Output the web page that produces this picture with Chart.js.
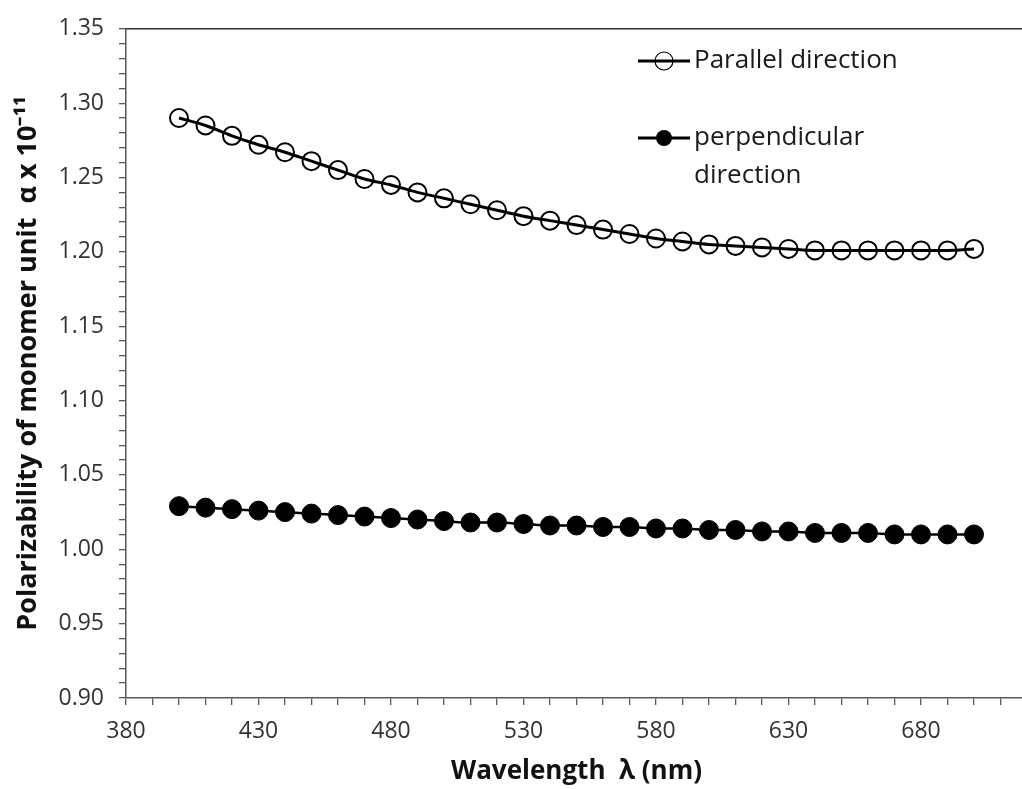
<!DOCTYPE html>
<html>
<head>
<meta charset="utf-8">
<script src="https://cdn.jsdelivr.net/npm/chart.js@4/dist/chart.umd.min.js"></script>
<style>
  html, body { margin: 0; padding: 0; background: #fff; overflow: hidden; }
  #wrap { width: 1022px; height: 789px; overflow: hidden; }
</style>
</head>
<body>
<div id="wrap"><canvas id="polChart" width="1040" height="789"></canvas></div>
<script>
// wavelength (nm)
const wavelengths = [400, 410, 420, 430, 440, 450, 460, 470, 480, 490, 500,
    510, 520, 530, 540, 550, 560, 570, 580, 590, 600,
    610, 620, 630, 640, 650, 660, 670, 680, 690, 700];

// polarizability alpha x 1e-11
const parallelValues = [1.290, 1.285, 1.278, 1.272, 1.267, 1.261, 1.255, 1.249, 1.245, 1.240, 1.236,
    1.232, 1.228, 1.224, 1.221, 1.218, 1.215, 1.212, 1.209, 1.207, 1.205,
    1.204, 1.203, 1.202, 1.201, 1.201, 1.201, 1.201, 1.201, 1.201, 1.202];
const perpendicularValues = [1.029, 1.028, 1.027, 1.026, 1.025, 1.024, 1.023, 1.022, 1.021, 1.020, 1.019,
    1.018, 1.018, 1.017, 1.016, 1.016, 1.015, 1.015, 1.014, 1.014, 1.013,
    1.013, 1.012, 1.012, 1.011, 1.011, 1.011, 1.010, 1.010, 1.010, 1.010];

const xMajorTicks = [380, 430, 480, 530, 580, 630, 680];
const yMajorTicks = [0.90, 0.95, 1.00, 1.05, 1.10, 1.15, 1.20, 1.25, 1.30, 1.35];

const seriesNames = ["Parallel direction", "perpendicular direction"];

const axisColor = "#595959";
const textFont = "'Open Sans', sans-serif";

function toPoints(values) {
    return wavelengths.map((w, i) => ({ x: w, y: values[i] }));
}

// box on top + legend drawn inside the plot
const framePlugin = {
    id: "frame",
    afterDraw(chart) {
        const ctx = chart.ctx;
        const area = chart.chartArea;
        ctx.save();
        ctx.strokeStyle = "#333";
        ctx.lineWidth = 1.5;
        ctx.beginPath();
        ctx.moveTo(area.left, area.top);
        ctx.lineTo(chart.width, area.top);
        ctx.stroke();

        const items = [
            { lines: ["Parallel direction"], y: 61, filled: false },
            { lines: ["perpendicular", "direction"], y: 138, filled: true }
        ];
        items.forEach(item => {
            ctx.strokeStyle = "#000";
            ctx.lineWidth = 3;
            ctx.beginPath();
            ctx.moveTo(638, item.y);
            ctx.lineTo(690, item.y);
            ctx.stroke();
            ctx.beginPath();
            ctx.arc(664, item.y, item.filled ? 8 : 9, 0, Math.PI * 2);
            if (item.filled) {
                ctx.fillStyle = "#000";
                ctx.fill();
            } else {
                ctx.fillStyle = "#fff";
                ctx.fill();
                ctx.lineWidth = 1.2;
                ctx.stroke();
                ctx.lineWidth = 3;
                ctx.beginPath();
                ctx.moveTo(655, item.y);
                ctx.lineTo(673, item.y);
                ctx.stroke();
            }
            ctx.fillStyle = "#1a1a1a";
            ctx.font = "26px " + textFont;
            ctx.textBaseline = "middle";
            ctx.textAlign = "left";
            item.lines.forEach((t, k) => ctx.fillText(t, 694, item.y + k * 38));
        });
        ctx.restore();
    }
};

new Chart(document.getElementById("polChart"), {
    type: "line",
    data: {
        datasets: [{
            label: seriesNames[0],
            data: toPoints(parallelValues),
            borderColor: "#000",
            borderWidth: 3,
            pointStyle: "circle",
            pointRadius: 9,
            pointBorderWidth: 2,
            pointBorderColor: "#000",
            pointBackgroundColor: "rgba(255,255,255,0)",
            cubicInterpolationMode: "monotone"
        }, {
            label: seriesNames[1],
            data: toPoints(perpendicularValues),
            borderColor: "#000",
            borderWidth: 2.5,
            pointStyle: "circle",
            pointRadius: 9.5,
            pointBorderWidth: 1,
            pointBorderColor: "#000",
            pointBackgroundColor: "#000",
            cubicInterpolationMode: "monotone"
        }]
    },
    options: {
        responsive: false,
        animation: false,
        layout: { padding: { top: 22, right: 10, left: 0, bottom: 0 } },
        plugins: {
            legend: { display: false },
            tooltip: { enabled: false }
        },
        scales: {
            x: {
                type: "linear",
                min: 380,
                max: 720,
                afterFit(scale) { scale.height = 91; },
                afterBuildTicks(scale) {
                    const t = [];
                    for (let v = 380; v <= 720; v += 10) t.push({ value: v });
                    scale.ticks = t;
                },
                ticks: {
                    autoSkip: false,
                    maxRotation: 0,
                    padding: 13,
                    color: "#333",
                    font: { family: textFont, size: 23 },
                    callback: v => xMajorTicks.includes(v) ? String(v) : ""
                },
                grid: {
                    display: true,
                    drawOnChartArea: false,
                    drawTicks: true,
                    tickLength: 7,
                    color: axisColor,
                    lineWidth: 1.3
                },
                border: { color: axisColor, width: 1.5 },
                title: {
                    display: true,
                    text: "Wavelength  \u03bb (nm)",
                    color: "#111",
                    font: { family: textFont, size: 26, weight: "bold" },
                    padding: { top: 0, bottom: 2 }
                }
            },
            y: {
                min: 0.9,
                max: 1.35,
                afterFit(scale) { scale.width = 126; },
                afterBuildTicks(scale) {
                    const t = [];
                    for (let k = 90; k <= 135; k++) t.push({ value: k / 100 });
                    scale.ticks = t;
                },
                ticks: {
                    autoSkip: false,
                    padding: 15,
                    color: "#333",
                    font: { family: textFont, size: 23 },
                    callback: v => {
                        const k = Math.round(v * 100);
                        return k % 5 === 0 ? (k / 100).toFixed(2) : "";
                    }
                },
                grid: {
                    display: true,
                    drawOnChartArea: false,
                    drawTicks: true,
                    tickLength: 7,
                    color: axisColor,
                    lineWidth: 1.3
                },
                border: { color: axisColor, width: 1.5 },
                title: {
                    display: true,
                    text: "Polarizability of monomer unit  \u03b1 x 10\u207b\u00b9\u00b9",
                    color: "#111",
                    font: { family: textFont, size: 27, weight: "bold" },
                    padding: { top: 12, bottom: 0 }
                }
            }
        }
    },
    plugins: [framePlugin]
});
</script>
</body>
</html>
